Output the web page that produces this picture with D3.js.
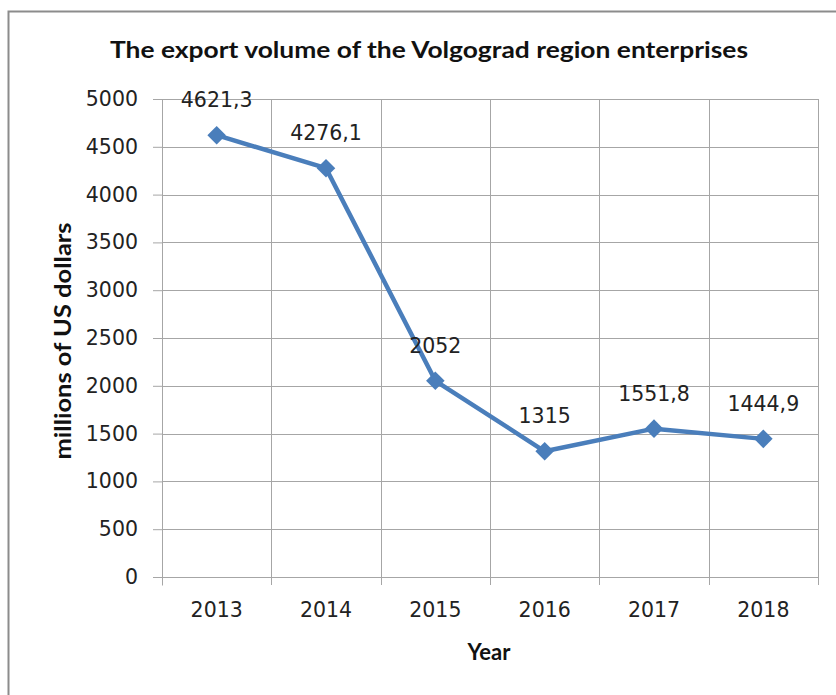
<!DOCTYPE html>
<html>
<head>
<meta charset="utf-8">
<script src="https://cdn.jsdelivr.net/npm/d3@7"></script>
<style>
  body { margin: 0; background: #fff; }
  svg text { font-family: "DejaVu Sans", sans-serif; fill: #222; }
  svg text.ttl { font-family: Lato, "DejaVu Sans", sans-serif; font-weight: bold; fill: #111; }
</style>
</head>
<body>
<svg width="836" height="695"></svg>
<script>
// chart values
const years = ["2013", "2014", "2015", "2016", "2017", "2018"];
const exportVolume = [4621.3, 4276.1, 2052, 1315, 1551.8, 1444.9];
const valueLabels = ["4621,3", "4276,1", "2052", "1315", "1551,8", "1444,9"];
const yTicks = [0, 500, 1000, 1500, 2000, 2500, 3000, 3500, 4000, 4500, 5000];

const margin = {top: 99, right: 18, bottom: 118, left: 162};
const W = 836, H = 695;
const width = W - margin.left - margin.right;
const height = H - margin.top - margin.bottom;
const blue = "#4a7ebb";
const grid = "#a6a6a6";

const svg = d3.select("svg");

// outer frame
svg.append("rect")
  .attr("x", 8.5).attr("y", 11.5)
  .attr("width", 840).attr("height", 700)
  .attr("fill", "none").attr("stroke", "#8c8c8c").attr("stroke-width", 2);

svg.append("text")
  .attr("class", "ttl")
  .attr("x", 429).attr("y", 58)
  .attr("text-anchor", "middle")
  .attr("font-size", 22.5)
  .attr("textLength", 638)
  .attr("lengthAdjust", "spacingAndGlyphs")
  .text("The export volume of the Volgograd region enterprises");

const g = svg.append("g").attr("transform", `translate(${margin.left},${margin.top})`);

const x = d3.scaleBand().domain(years).range([0, width]);
const y = d3.scaleLinear().domain([0, 5000]).range([height, 0]);

// horizontal gridlines
g.append("g")
  .selectAll("line")
  .data(yTicks.filter(d => d > 0))
  .join("line")
  .attr("x1", 0).attr("x2", width)
  .attr("y1", d => Math.round(y(d)) + 0.5).attr("y2", d => Math.round(y(d)) + 0.5)
  .attr("stroke", grid);

// vertical gridlines at category boundaries
g.append("g")
  .selectAll("line")
  .data(years.slice(1).concat(["end"]))
  .join("line")
  .attr("x1", (d, i) => Math.round(x.step() * (i + 1)) + 0.5)
  .attr("x2", (d, i) => Math.round(x.step() * (i + 1)) + 0.5)
  .attr("y1", 0).attr("y2", height + 8)
  .attr("stroke", grid);

// y axis
const yAxis = g.append("g")
  .call(d3.axisLeft(y).tickValues(yTicks).tickFormat(d3.format("d")).tickSize(9).tickPadding(15));
yAxis.select(".domain").attr("stroke", grid).attr("d", `M-9,0.5H0.5V${height}`);
yAxis.selectAll(".tick line").attr("stroke", grid);
yAxis.selectAll(".tick text")
  .attr("font-size", 20.5).attr("fill", "#222")
  .style("font-family", "DejaVu Sans, sans-serif");

// x axis
const xAxis = g.append("g")
  .attr("transform", `translate(0,${Math.round(height) + 0.5})`)
  .call(d3.axisBottom(x).tickSize(0).tickPadding(25));
xAxis.select(".domain").attr("stroke", grid).attr("d", `M0,0H${width}M0.5,0V8`);
xAxis.selectAll(".tick text")
  .attr("font-size", 20.5).attr("fill", "#222")
  .style("font-family", "DejaVu Sans, sans-serif");

// axis titles
svg.append("text")
  .attr("class", "ttl")
  .attr("transform", "translate(71,341) rotate(-90)")
  .attr("text-anchor", "middle")
  .attr("font-size", 22)
  .attr("textLength", 237)
  .attr("lengthAdjust", "spacingAndGlyphs")
  .text("millions of US dollars");

svg.append("text")
  .attr("class", "ttl")
  .attr("x", 489).attr("y", 660)
  .attr("text-anchor", "middle")
  .attr("font-size", 22)
  .text("Year");

// series
const pts = years.map((yr, i) => ({yr, v: exportVolume[i], label: valueLabels[i]}));
const cx = d => x(d.yr) + x.bandwidth() / 2;

g.append("path")
  .datum(pts)
  .attr("fill", "none")
  .attr("stroke", blue)
  .attr("stroke-width", 4.5)
  .attr("stroke-linejoin", "round")
  .attr("d", d3.line().x(cx).y(d => y(d.v)));

g.append("g")
  .selectAll("path")
  .data(pts)
  .join("path")
  .attr("transform", d => `translate(${cx(d)},${y(d.v)})`)
  .attr("d", d3.symbol().type(d3.symbolDiamond2).size(220))
  .attr("fill", blue);

g.append("g")
  .selectAll("text")
  .data(pts)
  .join("text")
  .attr("x", d => cx(d))
  .attr("y", d => y(d.v) - 28)
  .attr("text-anchor", "middle")
  .attr("font-size", 20.5)
  .text(d => d.label);
</script>
</body>
</html>
